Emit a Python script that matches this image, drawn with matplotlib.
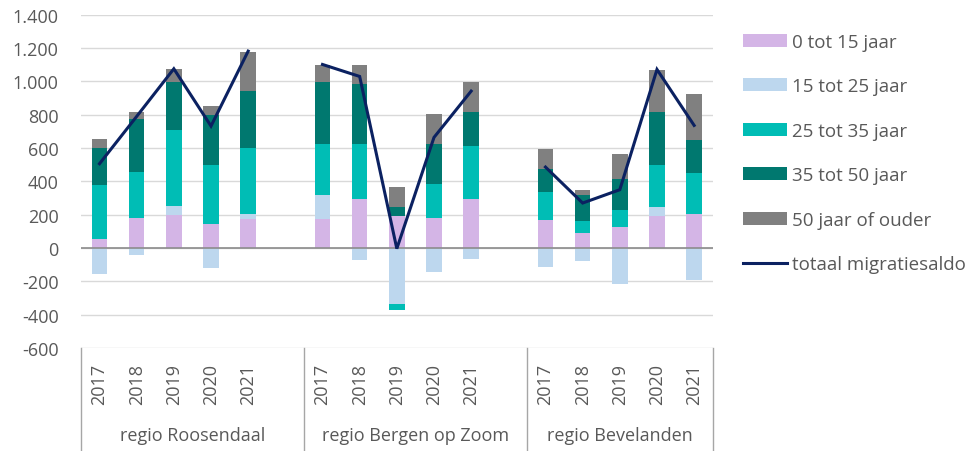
import numpy as np
import matplotlib.pyplot as plt
from matplotlib.patches import Patch
from matplotlib.lines import Line2D

plt.rcParams['font.family'] = ['Open Sans', 'DejaVu Sans']

regions = ["regio Roosendaal", "regio Bergen op Zoom", "regio Bevelanden"]
years = ["2017", "2018", "2019", "2020", "2021"]
series_names = ["0 tot 15 jaar", "15 tot 25 jaar", "25 tot 35 jaar",
                "35 tot 50 jaar", "50 jaar of ouder"]

# values per region, 2017..2021
age_0_15 = [[56, 182, 200, 146, 172],
            [172, 296, 192, 182, 294],
            [170, 92, 128, 194, 202]]
age_15_25 = [[-154, -44, 52, -120, 34],
             [148, -70, -336, -146, -64],
             [-112, -80, -218, 54, -190]]
age_25_35 = [[324, 274, 458, 354, 392],
             [306, 328, -36, 202, 320],
             [164, 72, 102, 252, 246]]
age_35_50 = [[222, 316, 288, 296, 342],
             [368, 362, 56, 238, 200],
             [138, 152, 186, 314, 198]]
age_50_plus = [[54, 44, 76, 56, 238],
               [104, 114, 118, 184, 184],
               [122, 32, 150, 256, 278]]
total_saldo = [[506, 790, 1076, 732, 1182],
               [1102, 1030, -4, 664, 942],
               [486, 270, 350, 1072, 736]]

colors = ["#D4B5E6", "#BDD7EE", "#00BDB5", "#00786F", "#808080"]
line_color = "#0B2161"
text_color = "#595959"
fs = 13

# category slots: 5 years + 1 empty slot per region
slot_pos = []
for g in range(len(regions)):
    slot_pos.append([g * 6 + i for i in range(len(years))])

fig = plt.figure(figsize=(9.75, 4.52), dpi=100)
ax = fig.add_axes([0.083, 0.228, 0.648, 0.737])

all_series = [age_0_15, age_15_25, age_25_35, age_35_50, age_50_plus]
for g in range(len(regions)):
    x = np.array(slot_pos[g])
    pos_bottom = np.zeros(len(years))
    neg_bottom = np.zeros(len(years))
    for s, data in enumerate(all_series):
        vals = np.array(data[g], dtype=float)
        bottom = np.where(vals >= 0, pos_bottom, neg_bottom)
        ax.bar(x, vals, width=0.42, bottom=bottom, color=colors[s],
               linewidth=0, zorder=2)
        pos_bottom += np.where(vals >= 0, vals, 0)
        neg_bottom += np.where(vals < 0, vals, 0)
    ax.plot(x, total_saldo[g], color=line_color, lw=2.2, zorder=3,
            solid_joinstyle="miter")

ax.set_xlim(-0.5, 16.5)
ax.set_ylim(-600, 1400)
yt = np.arange(-600, 1401, 200)
ax.set_yticks(yt)
ax.set_yticklabels([f"{v:,}".replace(",", ".") for v in yt],
                   fontsize=fs, color=text_color)
ax.tick_params(axis="y", length=0, pad=16)
ax.set_xticks([])
ax.grid(axis="y", color="#D9D9D9", lw=1, zorder=0)
ax.axhline(0, color="#8C8C8C", lw=1.2, zorder=2.5)
for sp in ax.spines.values():
    sp.set_visible(False)

# category axis below plot
trans = ax.get_xaxis_transform()
for xs in [-0.5, 5.5, 11.5, 16.5]:
    ax.plot([xs, xs], [0, -0.31], transform=trans, color="#A6A6A6",
            lw=1, clip_on=False)
for g in range(len(regions)):
    for i, yr in enumerate(years):
        ax.text(slot_pos[g][i], -0.045, yr, transform=trans, rotation=90,
                ha="center", va="top", fontsize=fs, color=text_color)
    left = g * 6 - 0.5
    right = min(g * 6 + 5.5, 16.5)
    ax.text((left + right) / 2, -0.26, regions[g], transform=trans,
            ha="center", va="center", fontsize=fs, color=text_color)

handles = [Patch(facecolor=c, edgecolor="none") for c in colors]
handles.append(Line2D([0], [0], color=line_color, lw=2.2))
labels = series_names + ["totaal migratiesaldo"]
leg = fig.legend(handles, labels, loc="upper left",
                 bbox_to_anchor=(0.745, 0.962), frameon=False,
                 fontsize=13.5, labelcolor=text_color, handlelength=2.35,
                 handleheight=0.69, handletextpad=0.27, labelspacing=1.41)

fig.savefig("out.png", dpi=100)
